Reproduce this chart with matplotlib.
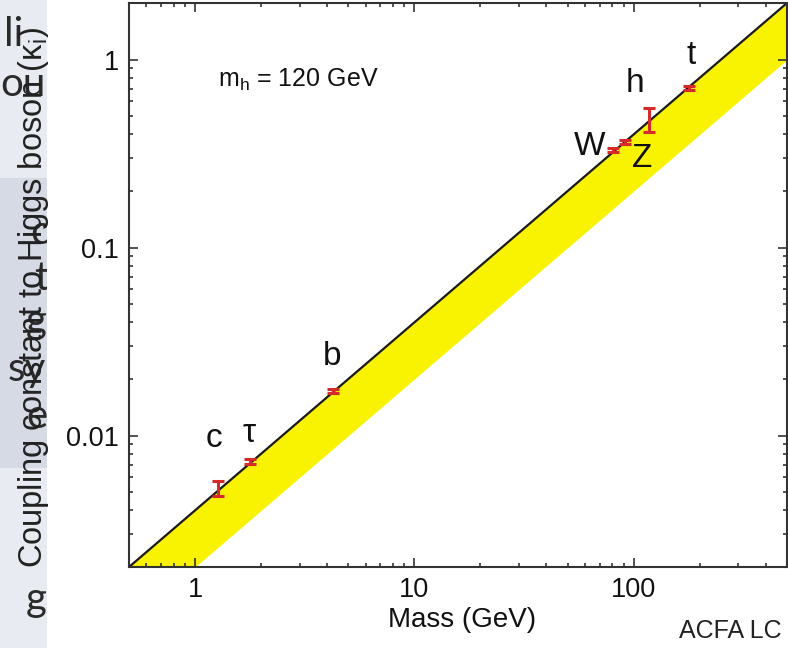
import numpy as np
import matplotlib
matplotlib.use("Agg")
import matplotlib.pyplot as plt
from matplotlib.patches import Rectangle
from matplotlib.ticker import FuncFormatter, LogLocator

plt.rcParams['font.family'] = ['Liberation Sans', 'DejaVu Sans']
plt.rcParams['mathtext.fontset'] = 'custom'
plt.rcParams['mathtext.rm'] = 'Liberation Sans'
plt.rcParams['mathtext.it'] = 'Liberation Sans'

# ---------------- data ----------------
particles = ['c', 'τ', 'b', 'W', 'Z', 'h', 't']
masses = [1.27, 1.78, 4.25, 80.4, 91.2, 118.0, 178.0]
kappa = [0.0052, 0.0073, 0.0172, 0.33, 0.365, 0.48, 0.705]
kappa_err_lo = [0.00045, 0.00025, 0.0004, 0.008, 0.009, 0.07, 0.015]
kappa_err_hi = [0.00055, 0.00025, 0.0004, 0.008, 0.009, 0.075, 0.015]

label_x = [1.22, 1.76, 4.22, 63.0, 109.0, 101.0, 182.0]
label_y = [0.0096, 0.0102, 0.0265, 0.345, 0.298, 0.745, 1.05]

band_mass = [0.5, 500.0]
band_upper = [0.002, 2.0]
band_lower = [0.001, 1.0]

x_ticks = [1, 10, 100]
y_ticks = [0.01, 0.1, 1]

slide_fragments = ['li', 'ou', 'c', 't', 'g', 'sy', 'e', 'g']
slide_fragment_x = [4, 0, 30, 34, 26, 8, 26, 26]
slide_fragment_y = [35, 85, 232, 278, 322, 370, 417, 600]

W, H = 788, 648
fig = plt.figure(figsize=(W / 100, H / 100), dpi=100)
fig.patch.set_facecolor('white')

# ---- slide strip on the left ----
def fig_rect(x0, y0, x1, y1, color, z):
    r = Rectangle((x0 / W, 1 - y1 / H), (x1 - x0) / W, (y1 - y0) / H,
                  transform=fig.transFigure, facecolor=color, edgecolor='none',
                  zorder=z)
    fig.patches.append(r)

fig_rect(0, 0, 60, 178, '#e8ebf2', -5)
fig_rect(0, 178, 60, 468, '#d5dae4', -5)
fig_rect(0, 468, 60, 648, '#e8ebf2', -5)
for frag, xx, yy in zip(slide_fragments, slide_fragment_x, slide_fragment_y):
    fig.text(xx / W, 1 - yy / H, frag, ha='left', va='center',
             fontsize=29, color='#2a2a2a', family=['Lato', 'DejaVu Sans'],
             zorder=-4)
fig_rect(47, 0, 788, 648, 'white', -3)

# ---- axes ----
ax = fig.add_axes([129 / W, 1 - 567 / H, (787 - 129) / W, (567 - 3) / H])
ax.set_xscale('log')
ax.set_yscale('log')
ax.set_xlim(band_mass[0], band_mass[1])
ax.set_ylim(band_upper[0], band_upper[1])

ax.fill_between(band_mass, band_lower, band_upper, color='#f9f200',
                linewidth=0, zorder=1)
ax.plot(band_mass, band_upper, color='#1a1a1a', lw=1.6, zorder=2)

ax.errorbar(masses, kappa, yerr=[kappa_err_lo, kappa_err_hi], fmt='none',
            ecolor='#d42a2a', elinewidth=2.2, capsize=4.5, capthick=2.2,
            zorder=3)

for p, lx, ly in zip(particles, label_x, label_y):
    ax.text(lx, ly, p, ha='center', va='center', fontsize=24, color='#111111',
            zorder=4)

ax.text(0.135, 0.863, r'm$_\mathregular{h}$ = 120 GeV', transform=ax.transAxes,
        ha='left', va='center', fontsize=18, color='#111111')

fmt = FuncFormatter(lambda v, pos: '%g' % v)
ax.set_xticks(x_ticks)
ax.set_yticks(y_ticks)
ax.xaxis.set_major_formatter(fmt)
ax.yaxis.set_major_formatter(fmt)
ax.xaxis.set_minor_locator(LogLocator(base=10, subs=np.arange(2, 10)))
ax.yaxis.set_minor_locator(LogLocator(base=10, subs=np.arange(2, 10)))
ax.xaxis.set_minor_formatter(FuncFormatter(lambda v, pos: ''))
ax.yaxis.set_minor_formatter(FuncFormatter(lambda v, pos: ''))

ax.tick_params(which='both', direction='in', top=True, right=True,
               color='#333333', width=1.2)
ax.tick_params(which='major', length=6.5, labelsize=19.5, pad=7,
               labelcolor='#111111')
ax.tick_params(which='minor', length=3.2)
for s in ax.spines.values():
    s.set_linewidth(1.5)
    s.set_color('#333333')

fig.text(462 / W, 1 - 620 / H, 'Mass (GeV)', ha='center', va='center',
         fontsize=20, color='#111111')

fig.text(34 / W, 1 - 297 / H, 'Coupling constant to Higgs boson (κ$_\\mathregular{i}$)',
         rotation=90, ha='center', va='center', fontsize=23.5, color='#222222',
         zorder=5)

fig.text(782 / W, 1 - 631 / H, 'ACFA LC', ha='right', va='center',
         fontsize=18, color='#222222')

fig.savefig('out.png', dpi=100)
